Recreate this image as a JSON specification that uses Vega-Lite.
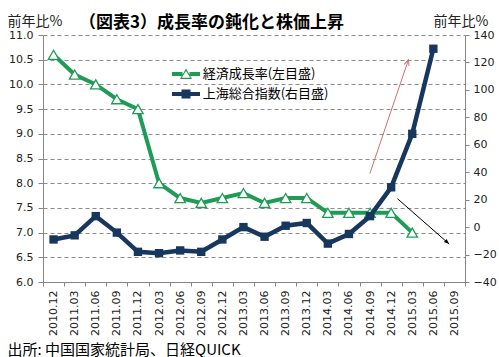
{
  "$schema": "https://vega.github.io/schema/vega-lite/v6.json",
  "width": 422,
  "height": 247,
  "autosize": {"type": "none"},
  "padding": {"left": 43, "top": 35, "right": 34, "bottom": 75},
  "background": "white",
  "config": {"view": {"stroke": null}, "font": "DejaVu Sans"},
  "title": {
    "text": "（図表3）成長率の鈍化と株価上昇",
    "anchor": "start",
    "frame": "group",
    "dx": 36,
    "dy": 25,
    "offset": 7,
    "fontSize": 17,
    "font": "Noto Sans CJK JP",
    "fontWeight": "bold",
    "color": "#000000"
  },
  "datasets": {
    "main": [
      {"period": "2010.12", "gdp": 10.6, "sse": -9},
      {"period": "2011.03", "gdp": 10.2, "sse": -6},
      {"period": "2011.06", "gdp": 10.0, "sse": 8},
      {"period": "2011.09", "gdp": 9.7, "sse": -4},
      {"period": "2011.12", "gdp": 9.5, "sse": -18},
      {"period": "2012.03", "gdp": 8.0, "sse": -19},
      {"period": "2012.06", "gdp": 7.7, "sse": -17},
      {"period": "2012.09", "gdp": 7.6, "sse": -18},
      {"period": "2012.12", "gdp": 7.7, "sse": -9},
      {"period": "2013.03", "gdp": 7.8, "sse": 0},
      {"period": "2013.06", "gdp": 7.6, "sse": -7},
      {"period": "2013.09", "gdp": 7.7, "sse": 1},
      {"period": "2013.12", "gdp": 7.7, "sse": 3},
      {"period": "2014.03", "gdp": 7.4, "sse": -12},
      {"period": "2014.06", "gdp": 7.4, "sse": -5},
      {"period": "2014.09", "gdp": 7.4, "sse": 8},
      {"period": "2014.12", "gdp": 7.4, "sse": 29},
      {"period": "2015.03", "gdp": 7.0, "sse": 68},
      {"period": "2015.06", "gdp": null, "sse": 130},
      {"period": "2015.09", "gdp": null, "sse": null}
    ]
  },
  "layer": [
    {
      "data": {"name": "main"},
      "layer": [
        {
          "mark": {"type": "line", "color": "#1e9c56", "strokeWidth": 4},
          "encoding": {
            "x": {
              "field": "period", "type": "ordinal", "bandPosition": 0.5,
              "scale": {"type": "band", "paddingInner": 0, "paddingOuter": 0,
                "domain": ["2010.12","2011.03","2011.06","2011.09","2011.12","2012.03","2012.06","2012.09","2012.12","2013.03","2013.06","2013.09","2013.12","2014.03","2014.06","2014.09","2014.12","2015.03","2015.06","2015.09"]},
              "axis": {
                "title": "出所: 中国国家統計局、日経QUICK",
                "titleX": -36, "titleY": 67, "titleAlign": "left", "titleAnchor": "start", "titleBaseline": "middle",
                "titleFont": "Noto Sans CJK JP", "titleFontSize": 15, "titleFontWeight": "normal", "titleColor": "#000000",
                "labelAngle": -90, "labelFontSize": 11, "labelPadding": 4, "labelColor": "#222222", "labelOverlap": false,
                "tickSize": 4, "tickBand": "extent", "domainColor": "#868686", "tickColor": "#868686", "grid": false
              }
            },
            "y": {
              "field": "gdp", "type": "quantitative",
              "scale": {"domain": [6, 11], "nice": false, "zero": false},
              "axis": {
                "values": [6, 6.5, 7, 7.5, 8, 8.5, 9, 9.5, 10, 10.5, 11], "tickCount": 30,
                "format": ".1f", "grid": true, "gridDash": [4, 3], "gridColor": "#8c8c8c",
                "domainColor": "#868686", "tickColor": "#868686", "tickSize": 5, "labelPadding": 5,
                "labelFontSize": 11, "labelColor": "#222222", "labelOverlap": false,
                "title": "前年比%", "titleAngle": 0, "titleX": -36, "titleY": -10, "titleAlign": "left",
                "titleBaseline": "alphabetic", "titleFont": "Noto Sans CJK JP", "titleFontSize": 14,
                "titleFontWeight": "normal", "titleColor": "#222222"
              }
            }
          }
        },
        {
          "mark": {"type": "point", "shape": "triangle-up", "filled": true, "fill": "white", "stroke": "#1e9c56", "strokeWidth": 1.3, "size": 110, "opacity": 1},
          "encoding": {
            "x": {"field": "period", "type": "ordinal", "bandPosition": 0.5},
            "y": {"field": "gdp", "type": "quantitative"}
          }
        },
        {
          "data": {"values": [{"series": "経済成長率(左目盛)"}, {"series": "上海総合指数(右目盛)"}]},
          "mark": {"type": "point", "filled": true, "opacity": 0},
          "encoding": {
            "color": {
              "field": "series", "type": "nominal",
              "scale": {"domain": ["経済成長率(左目盛)", "上海総合指数(右目盛)"], "range": ["#1e9c56", "#17375e"]},
              "legend": {"orient": "none", "legendX": 133, "legendY": 29, "title": null, "labelFont": "Noto Sans CJK JP",
                "labelFontSize": 13, "labelColor": "#000000", "symbolSize": 400, "symbolStrokeWidth": 0,
                "symbolOpacity": 1, "labelOffset": 6.7, "rowPadding": 3, "padding": 0}
            },
            "shape": {
              "field": "series", "type": "nominal",
              "scale": {"domain": ["経済成長率(左目盛)", "上海総合指数(右目盛)"],
                "range": ["M-1.4,-0.2H-0.35V0.2H-1.4Z M0.35,-0.2H1.4V0.2H0.35Z M0,-0.55L0.6,0.5L-0.6,0.5Z M0,-0.3L-0.42,0.38L0.42,0.38Z",
                          "M-1.4,-0.2H1.4V0.2H-1.4Z M-0.45,-0.45H0.45V0.45H-0.45Z"]},
              "legend": {"orient": "none", "legendX": 133, "legendY": 29, "title": null, "labelFont": "Noto Sans CJK JP",
                "labelFontSize": 13, "labelColor": "#000000", "symbolSize": 400, "symbolStrokeWidth": 0,
                "symbolOpacity": 1, "labelOffset": 6.7, "rowPadding": 3, "padding": 0}
            }
          }
        }
      ]
    },
    {
      "data": {"name": "main"},
      "layer": [
        {
          "mark": {"type": "line", "color": "#17375e", "strokeWidth": 4.5},
          "encoding": {
            "x": {
              "field": "period", "type": "ordinal", "bandPosition": 0.5,
              "scale": {"type": "band", "paddingInner": 0, "paddingOuter": 0,
                "domain": ["2010.12","2011.03","2011.06","2011.09","2011.12","2012.03","2012.06","2012.09","2012.12","2013.03","2013.06","2013.09","2013.12","2014.03","2014.06","2014.09","2014.12","2015.03","2015.06","2015.09"]},
              "axis": null
            },
            "y": {
              "field": "sse", "type": "quantitative",
              "scale": {"domain": [-40, 140], "nice": false, "zero": false},
              "axis": {
                "orient": "right",
                "values": [-40, -20, 0, 20, 40, 60, 80, 100, 120, 140], "tickCount": 30,
                "grid": false, "domainColor": "#868686", "tickColor": "#868686", "tickSize": 4, "labelPadding": 4,
                "labelFontSize": 11, "labelColor": "#222222", "labelOverlap": false,
                "title": "前年比%", "titleAngle": 0, "titleX": -32, "titleY": -10, "titleAlign": "left",
                "titleBaseline": "alphabetic", "titleFont": "Noto Sans CJK JP", "titleFontSize": 14,
                "titleFontWeight": "normal", "titleColor": "#222222"
              }
            }
          }
        },
        {
          "mark": {"type": "point", "shape": "square", "filled": true, "color": "#17375e", "size": 70, "opacity": 1},
          "encoding": {
            "x": {"field": "period", "type": "ordinal", "bandPosition": 0.5},
            "y": {"field": "sse", "type": "quantitative"}
          }
        }
      ]
    },
    {
      "layer": [
        {
          "data": {"values": [{"x": 15.49, "y": 39, "x2": 17.32, "y2": 122}]},
          "layer": [
            {
              "mark": {"type": "rule", "color": "#d0706a", "strokeWidth": 1},
              "encoding": {
                "x": {"field": "x", "type": "quantitative", "scale": {"domain": [0, 20], "nice": false, "zero": false}, "axis": null},
                "y": {"field": "y", "type": "quantitative", "scale": {"domain": [-40, 140], "nice": false, "zero": false}, "axis": null},
                "x2": {"field": "x2"},
                "y2": {"field": "y2"}
              }
            },
            {
              "mark": {"type": "point", "shape": "M-0.4,0.9L0,0L0.4,0.9", "filled": false, "stroke": "#d0706a", "strokeWidth": 1, "size": 160, "angle": 18.6, "opacity": 1},
              "encoding": {
                "x": {"field": "x2", "type": "quantitative"},
                "y": {"field": "y2", "type": "quantitative"}
              }
            }
          ]
        },
        {
          "data": {"values": [{"x": 16.8, "y": 20.7, "x2": 19.25, "y2": -12.3}]},
          "layer": [
            {
              "mark": {"type": "rule", "color": "#000000", "strokeWidth": 1},
              "encoding": {
                "x": {"field": "x", "type": "quantitative"},
                "y": {"field": "y", "type": "quantitative"},
                "x2": {"field": "x2"},
                "y2": {"field": "y2"}
              }
            },
            {
              "mark": {"type": "point", "shape": "M0,0L0.38,0.95L-0.38,0.95Z", "filled": true, "color": "#000000", "size": 120, "angle": 131.3, "opacity": 1},
              "encoding": {
                "x": {"field": "x2", "type": "quantitative"},
                "y": {"field": "y2", "type": "quantitative"}
              }
            }
          ]
        }
      ]
    }
  ],
  "resolve": {"scale": {"x": "independent", "y": "independent"}}
}
